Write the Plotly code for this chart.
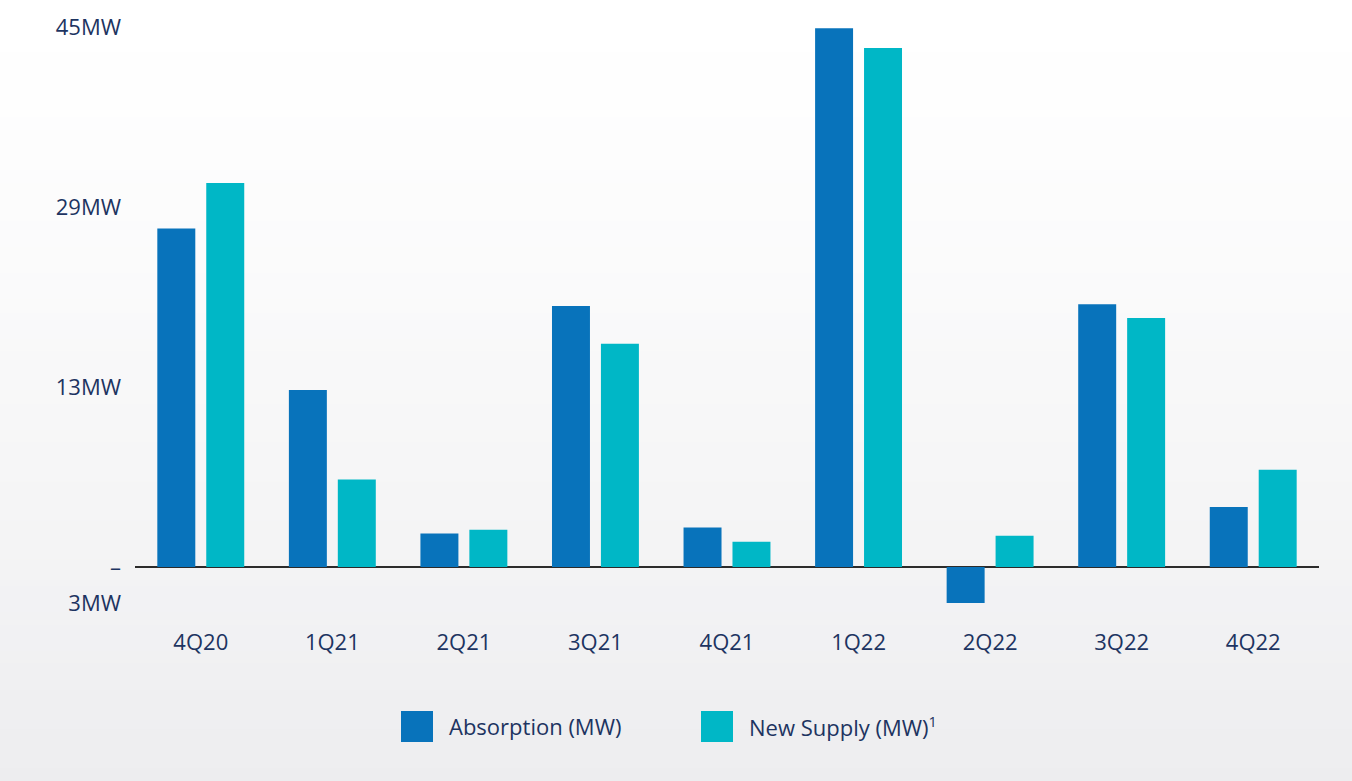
import plotly.graph_objects as go

# Quarterly data-centre market figures (MW)
quarters = ["4Q20", "1Q21", "2Q21", "3Q21", "4Q21", "1Q22", "2Q22", "3Q22", "4Q22"]
absorption_mw = [28.2, 14.75, 2.8, 21.75, 3.3, 44.9, -3.0, 21.9, 5.0]
new_supply_mw = [32.0, 7.3, 3.1, 18.6, 2.1, 43.25, 2.6, 20.75, 8.1]

# Y-axis tick positions and their printed labels
y_tick_positions = [-3, 0, 15, 30, 45]
y_tick_labels = ["3MW", "–", "13MW", "29MW", "45MW"]

series_names = ["Absorption (MW)", "New Supply (MW)<span style='font-size:21px'><sup>1</sup></span>"]
ABS_COLOR = "#0873BB"
NS_COLOR = "#00B7C6"
TEXT_COLOR = "#1D3461"
FONT = "Open Sans"

W, H = 1352, 781
L, R, T, B = 135, 33, 15, 154
plot_w = W - L - R
plot_h = H - T - B

fig = go.Figure()
fig.add_trace(go.Bar(x=quarters, y=absorption_mw, name="Absorption (MW)",
                     marker=dict(color=ABS_COLOR, line=dict(width=0))))
fig.add_trace(go.Bar(x=quarters, y=new_supply_mw, name="New Supply (MW)",
                     marker=dict(color=NS_COLOR, line=dict(width=0))))

def px_x(px):
    return (px - L) / plot_w

def px_y(py):
    return (H - B - py) / plot_h

# Soft vertical background gradient: white at top fading to light grey
shapes = []
bands = 60
for i in range(bands):
    y0 = i * H / bands
    y1 = (i + 1) * H / bands + 1
    t = (i + 0.5) / bands
    shade = t ** 1.3
    r = round(255 - 18 * shade)
    g = round(255 - 18 * shade)
    b = round(255 - 16 * shade)
    shapes.append(dict(type="rect", xref="paper", yref="paper",
                       x0=px_x(0), x1=px_x(W), y0=px_y(y1), y1=px_y(y0),
                       fillcolor=f"rgb({r},{g},{b})", line=dict(width=0),
                       layer="below"))

# Legend swatches drawn as large squares beneath the chart
legend_items = [(401, ABS_COLOR, series_names[0]), (701, NS_COLOR, series_names[1])]
annotations = []
for x0, color, label in legend_items:
    shapes.append(dict(type="rect", xref="paper", yref="paper",
                       x0=px_x(x0), x1=px_x(x0 + 32), y0=px_y(742), y1=px_y(711),
                       fillcolor=color, line=dict(width=0)))
    annotations.append(dict(xref="paper", yref="paper", x=px_x(x0 + 46), y=px_y(726),
                            text=label, showarrow=False, xanchor="left", yanchor="middle",
                            font=dict(family=FONT, size=22, color=TEXT_COLOR)))

fig.update_layout(
    width=W, height=H,
    margin=dict(l=L, r=R, t=T, b=B, pad=0),
    paper_bgcolor="#ffffff",
    plot_bgcolor="rgba(0,0,0,0)",
    barmode="group",
    bargap=0.256,
    bargroupgap=0.224,
    showlegend=False,
    shapes=shapes,
    annotations=annotations,
    font=dict(family=FONT, size=22, color=TEXT_COLOR),
    xaxis=dict(showgrid=False, zeroline=False, showline=False, ticks="",
               tickfont=dict(family=FONT, size=22, color=TEXT_COLOR)),
    yaxis=dict(range=[-5, 46], showgrid=False, zeroline=True, zerolinecolor="#2b2b2b",
               zerolinewidth=1.5, showline=False, ticks="",
               tickvals=y_tick_positions, ticktext=y_tick_labels,
               tickfont=dict(family=FONT, size=22, color=TEXT_COLOR),
               ticklabelstandoff=13),
)

fig.write_html("out.html")
